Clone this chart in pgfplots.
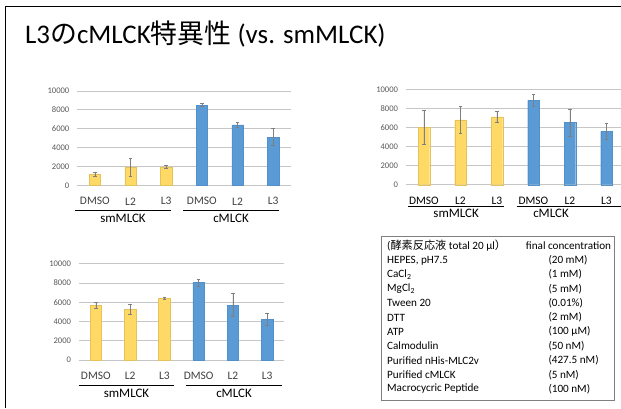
\documentclass[border=0pt]{standalone}
\usepackage{pgfplots}
\pgfplotsset{compat=1.18}
\usepackage{fontspec}
\setmainfont{Carlito}
\newfontfamily\jp{Noto Sans CJK JP}

\definecolor{barY}{HTML}{FFD966}
\definecolor{barYedge}{HTML}{E6C35A}
\definecolor{barB}{HTML}{5B9BD5}
\definecolor{barBedge}{HTML}{5290CB}
\definecolor{gridc}{HTML}{C6C6C6}
\definecolor{errc}{HTML}{7F7F7F}
\definecolor{ticktxt}{HTML}{595959}
\definecolor{cattxt}{HTML}{404040}
\definecolor{boxc}{HTML}{7F7F7F}

\pgfplotsset{
  kinase/.style={
    scale only axis, anchor=south west,
    ymin=0, ymax=10000, xmin=-0.5, xmax=5.5,
    ytick={0,2000,4000,6000,8000,10000},
    xtick={0,1,2,3,4,5}, xticklabels={DMSO,L2,L3,DMSO,L2,L3},
    ymajorgrids, grid style={gridc, line width=0.8bp},
    axis line style={draw=none}, tick style={draw=none},
    scaled y ticks=false,
    /pgf/number format/1000 sep={},
    /pgf/number format/assume math mode=true,
    y tick label style={font=\fontsize{8.6}{10}\selectfont, text=ticktxt,
      anchor=east, inner sep=0pt, xshift=-7.5bp},
    x tick label style={font=\fontsize{11.5}{13}\selectfont, text=cattxt,
      anchor=center, inner sep=0pt, yshift=-16bp},
    clip=false,
  },
  smbar/.style={ybar, bar width=11.5bp, bar shift=0pt,
    fill=barY, draw=barYedge, line width=0.4bp,
    error bars/.cd, y dir=both, y explicit,
    error bar style={errc, line width=0.6bp},
    error mark options={rotate=90, errc, mark size=1.7bp, line width=0.6bp}},
  cbar/.style={ybar, bar width=11.5bp, bar shift=0pt,
    fill=barB, draw=barBedge, line width=0.4bp,
    error bars/.cd, y dir=both, y explicit,
    error bar style={errc, line width=0.6bp},
    error mark options={rotate=90, errc, mark size=1.7bp, line width=0.6bp}},
}

\newcommand{\grp}[4]{% y, x-left, x-right, label
  \draw[line width=0.8bp] (#2,#1) -- (#3,#1);
  \node[font=\fontsize{13}{15}\selectfont, inner sep=0pt] at ({(#2+#3)/2},{#1-7.5}) {#4};}

\begin{document}
\begin{tikzpicture}[x=1bp,y=1bp]
\useasboundingbox (0,0) rectangle (621,408);
\clip (0,0) rectangle (621,408);
\fill[white] (0,0) rectangle (621,408);

% slide frame
\draw[line width=1.8bp] (5.5,0) -- (5.5,401.5) -- (621,401.5);

% title
\node[anchor=base west, inner sep=0pt, font=\fontsize{27}{30}\selectfont]
  at (25,365) {L3{\jp の}cMLCK{\jp 特異性} (vs. smMLCK)};

% ---- top left ----
\begin{axis}[kinase, at={(77bp,222.7bp)}, width=214bp, height=94.3bp]
\addplot[smbar] coordinates {(0,1150) +- (0,180) (1,1900) +- (0,950) (2,1950) +- (0,150)};
\addplot[cbar] coordinates {(3,8500) +- (0,170) (4,6400) +- (0,280) (5,5100) +- (0,900)};
\end{axis}
\grp{197.3}{75}{171}{smMLCK}
\grp{197.3}{183}{279}{cMLCK}

% ---- top right ----
\begin{axis}[kinase, at={(405.7bp,223.3bp)}, width=219bp, height=95.4bp,
  x tick label style={text=black}]
\addplot[smbar] coordinates {(0,6000) +- (0,1770) (1,6800) +- (0,1400) (2,7100) +- (0,580)};
\addplot[cbar] coordinates {(3,8850) +- (0,630) (4,6500) +- (0,1380) (5,5600) +- (0,800)};
\end{axis}
\grp{202}{408}{504.3}{smMLCK}
\grp{202}{516.7}{625}{}
\node[font=\fontsize{13}{15}\selectfont, inner sep=0pt] at (551,194.5) {cMLCK};

% ---- bottom left ----
\begin{axis}[kinase, at={(78.7bp,48bp)}, width=205.6bp, height=96.3bp]
\addplot[smbar] coordinates {(0,5700) +- (0,300) (1,5250) +- (0,520) (2,6400) +- (0,130)};
\addplot[cbar] coordinates {(3,8050) +- (0,350) (4,5700) +- (0,1200) (5,4250) +- (0,600)};
\end{axis}
\grp{22.3}{78.7}{174.3}{smMLCK}
\grp{22.3}{186}{282}{cMLCK}

% ---- reaction mixture ----
\draw[boxc, line width=1bp] (381,172) rectangle (614,7.5);
\begin{scope}[every node/.style={anchor=west, inner sep=0pt,
    font=\fontsize{11.2}{13}\selectfont}]
\node at (387,162) {({\jp 酵素反応液} total 20 μl{\jp ）}};
\node at (525.7,162) {final concentration};
\foreach \lab/\val [count=\i] in {
    {HEPES, pH7.5}/{(20 mM)},
    {CaCl\textsubscript{2}}/{(1 mM)},
    {MgCl\textsubscript{2}}/{(5 mM)},
    {Tween 20}/{(0.01\%)},
    {DTT}/{(2 mM)},
    {ATP}/{(100 μM)},
    {Calmodulin}/{(50 nM)},
    {Purified nHis-MLC2v}/{(427.5 nM)},
    {Purified cMLCK}/{(5 nM)},
    {Macrocycric Peptide}/{(100 nM)}} {
  \node at (387,{162-14.3*\i}) {\lab};
  \node at (548.3,{162-14.3*\i}) {\val};
}
\end{scope}
\end{tikzpicture}
\end{document}
